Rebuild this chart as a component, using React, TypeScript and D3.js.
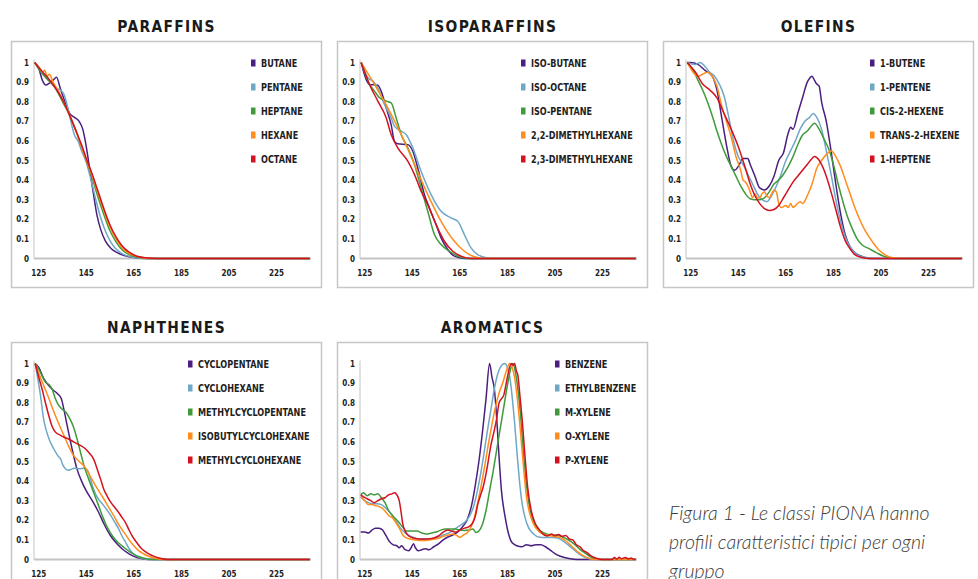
import * as d3 from "d3";

type Pt = [number, number];

// ---- axis ticks ----
const xTicks = [125, 145, 165, 185, 205, 225];
const yTicks = [0, 0.1, 0.2, 0.3, 0.4, 0.5, 0.6, 0.7, 0.8, 0.9, 1];
const seriesColors = ["#4b1f7f", "#6fa7c7", "#3e9a3b", "#ff8c1c", "#d2121f"];

// ---- PARAFFINS ----
const paraffinNames = ["BUTANE", "PENTANE", "HEPTANE", "HEXANE", "OCTANE"];
const butane: Pt[] = [[123.3,1],[125,0.97],[126.5,0.91],[128,0.885],[129.5,0.895],[131,0.91],[132.5,0.925],[134,0.87],[136,0.8],[138,0.74],[140,0.72],[142,0.7],[143.5,0.66],[145,0.57],[146.5,0.45],[148,0.33],[149.5,0.22],[151,0.15],[153,0.09],[155.5,0.05],[158,0.03],[161,0.015],[165,0.005],[170,0],[239,0]];
const pentane: Pt[] = [[123.3,1],[125.5,0.96],[127.5,0.93],[130,0.9],[132,0.87],[134,0.86],[135.5,0.84],[137,0.78],[138.5,0.7],[140,0.63],[141.5,0.6],[143,0.55],[145,0.49],[147,0.4],[149,0.3],[151,0.21],[153,0.14],[155,0.09],[157,0.055],[160,0.025],[164,0.008],[170,0],[239,0]];
const heptane: Pt[] = [[123.3,1],[126,0.95],[129,0.91],[132,0.87],[135,0.8],[138,0.73],[141,0.64],[143,0.57],[145,0.5],[147.5,0.41],[150,0.31],[152.5,0.22],[155,0.14],[157.5,0.085],[160,0.045],[163,0.02],[167,0.005],[172,0],[239,0]];
const hexane: Pt[] = [[123.3,1],[125.5,0.97],[126.5,0.95],[127.5,0.96],[128.5,0.93],[129.5,0.94],[131,0.9],[133,0.86],[135,0.81],[138,0.73],[141,0.64],[143,0.57],[145,0.5],[147.5,0.42],[150,0.33],[152.5,0.24],[155,0.16],[157.5,0.1],[160,0.055],[163,0.025],[167,0.008],[173,0],[239,0]];
const octane: Pt[] = [[123.3,1],[126,0.96],[129,0.92],[132,0.87],[135,0.81],[138,0.73],[141,0.64],[143,0.58],[145,0.51],[147.5,0.43],[150,0.34],[152.5,0.25],[155,0.17],[157.5,0.11],[160,0.065],[163,0.032],[166,0.013],[170,0.004],[175,0],[239,0]];

// ---- ISOPARAFFINS ----
const isoNames = ["ISO-BUTANE", "ISO-OCTANE", "ISO-PENTANE", "2,2-DIMETHYLHEXANE", "2,3-DIMETHYLHEXANE"];
const isoButane: Pt[] = [[123.5,1],[127,0.888],[130.5,0.884],[131.9,0.854],[134,0.769],[136.1,0.683],[137.5,0.598],[138.9,0.585],[143.1,0.581],[145.2,0.547],[147.3,0.462],[150.1,0.326],[152.2,0.258],[155,0.173],[157.1,0.105],[159.9,0.046],[162.7,0.012],[166.9,0],[239,0]];
const isoOctane: Pt[] = [[123.5,1],[126.3,0.922],[128.4,0.905],[130.5,0.871],[133.3,0.786],[136.1,0.718],[137.5,0.675],[140.3,0.65],[142.4,0.633],[145.2,0.565],[148.7,0.445],[152.9,0.326],[157.1,0.241],[161.3,0.207],[164.1,0.19],[166.9,0.122],[169.7,0.054],[172.5,0.02],[176.7,0.003],[180.9,0],[239,0]];
const isoPentane: Pt[] = [[123.5,1],[127,0.888],[129.1,0.854],[131.2,0.82],[134,0.803],[136.1,0.794],[138.2,0.718],[140.3,0.633],[143.1,0.565],[145.9,0.48],[148.7,0.36],[151.5,0.241],[154.3,0.122],[157.1,0.071],[160.6,0.037],[164.1,0.012],[168.3,0],[239,0]];
const dimethyl22: Pt[] = [[123.5,1],[129.1,0.888],[134.7,0.769],[140.3,0.633],[145.9,0.48],[151.5,0.326],[157.1,0.19],[162.7,0.088],[166.9,0.037],[171.1,0.009],[175.3,0],[239,0]];
const dimethyl23: Pt[] = [[123.5,1],[127,0.888],[130.5,0.803],[134,0.718],[136.1,0.633],[138.9,0.565],[143.1,0.497],[145.9,0.429],[148.7,0.343],[151.5,0.275],[155,0.173],[158.5,0.088],[162,0.037],[165.5,0.012],[169.7,0],[239,0]];

// ---- OLEFINS ----
const olefinNames = ["1-BUTENE", "1-PENTENE", "CIS-2-HEXENE", "TRANS-2-HEXENE", "1-HEPTENE"];
const butene1: Pt[] = [[123.5,1],[125,1],[128,0.99],[131,0.96],[134,0.93],[136,0.86],[138,0.72],[140,0.58],[142,0.47],[143.5,0.45],[145,0.47],[147,0.51],[149,0.51],[150,0.48],[152,0.42],[154,0.36],[156,0.35],[158,0.37],[160,0.42],[162,0.5],[164,0.54],[166,0.64],[167,0.67],[168,0.66],[170,0.74],[172,0.82],[174,0.9],[175,0.92],[176,0.93],[177,0.91],[178,0.89],[179,0.88],[180,0.8],[182,0.7],[184,0.55],[186,0.38],[188,0.23],[190,0.12],[192,0.06],[194,0.03],[197,0.01],[200,0],[239,0]];
const pentene1: Pt[] = [[123.5,1],[127,0.99],[129,1],[131,0.98],[133,0.95],[135,0.93],[137,0.89],[139,0.83],[141,0.72],[143,0.6],[145,0.52],[147,0.48],[149,0.43],[151,0.38],[153,0.33],[155,0.3],[157,0.29],[159,0.32],[161,0.37],[163,0.43],[165,0.5],[167,0.55],[169,0.6],[171,0.66],[173,0.7],[175,0.72],[176.5,0.74],[178,0.72],[180,0.66],[182,0.55],[184,0.43],[186,0.3],[188,0.19],[190,0.11],[192,0.06],[195,0.02],[199,0.005],[203,0],[239,0]];
const cis2hexene: Pt[] = [[123.5,1],[126,0.96],[128,0.91],[130,0.86],[132,0.8],[134,0.73],[136,0.65],[138,0.58],[140,0.52],[142,0.47],[144,0.42],[146,0.37],[148,0.33],[150,0.305],[152,0.3],[154,0.3],[156,0.31],[158,0.34],[160,0.38],[162,0.4],[164,0.43],[166,0.47],[168,0.52],[170,0.58],[172,0.63],[174,0.65],[176,0.68],[177,0.69],[179,0.66],[181,0.61],[183,0.56],[185,0.48],[187,0.38],[189,0.29],[191,0.21],[193,0.15],[195,0.1],[197,0.07],[200,0.05],[203,0.03],[206,0.012],[209,0.003],[213,0],[239,0]];
const trans2hexene: Pt[] = [[123.5,1],[126,0.95],[128,0.93],[130,0.94],[132,0.95],[134,0.93],[136,0.88],[138,0.78],[140,0.7],[142,0.62],[144,0.52],[146,0.45],[147,0.4],[148,0.39],[149,0.37],[150,0.34],[151,0.31],[152,0.33],[153,0.31],[154,0.31],[155,0.33],[156,0.34],[157,0.32],[158,0.31],[159,0.33],[160,0.35],[161,0.34],[162,0.28],[163,0.26],[165,0.27],[166,0.26],[167,0.28],[168,0.26],[169,0.27],[171,0.29],[172,0.28],[174,0.32],[176,0.38],[178,0.46],[180,0.5],[182,0.53],[184,0.55],[186,0.52],[188,0.47],[190,0.4],[192,0.33],[194,0.26],[196,0.2],[198,0.15],[200,0.11],[202,0.075],[204,0.045],[206,0.025],[208,0.01],[211,0.002],[214,0],[239,0]];
const heptene1: Pt[] = [[123.5,1],[127,0.95],[130,0.89],[133,0.86],[136,0.82],[139,0.74],[142,0.66],[145,0.57],[148,0.46],[150,0.38],[152,0.32],[154,0.28],[156,0.255],[158,0.245],[160,0.25],[162,0.27],[164,0.31],[166,0.35],[168,0.39],[170,0.42],[172,0.45],[174,0.48],[176,0.51],[177,0.52],[178,0.515],[180,0.48],[182,0.42],[184,0.34],[186,0.25],[188,0.16],[190,0.09],[192,0.05],[194,0.02],[197,0.005],[200,0],[239,0]];

// ---- NAPHTHENES ----
const naphtheneNames = ["CYCLOPENTANE", "CYCLOHEXANE", "METHYLCYCLOPENTANE", "ISOBUTYLCYCLOHEXANE", "METHYLCYCLOHEXANE"];
const cyclopentane: Pt[] = [[123.5,1],[125,0.98],[127,0.925],[129,0.89],[131,0.865],[133,0.845],[134.5,0.82],[135.5,0.77],[137,0.68],[139,0.565],[141,0.465],[143,0.4],[145,0.35],[147.5,0.3],[150,0.245],[152.5,0.18],[155,0.125],[157.5,0.085],[160,0.055],[162.5,0.033],[165,0.016],[168,0.005],[171,0],[239,0]];
const cyclohexane: Pt[] = [[123.5,1],[124.5,0.93],[125.7,0.84],[127,0.72],[128,0.665],[129.5,0.61],[131.3,0.565],[133,0.53],[134.3,0.51],[135.2,0.48],[136.2,0.463],[137.5,0.455],[138.5,0.46],[140,0.465],[142,0.463],[144,0.465],[145.5,0.455],[146.5,0.42],[148,0.36],[150,0.31],[152,0.28],[155,0.23],[157,0.19],[158.6,0.156],[160,0.12],[161.5,0.088],[163,0.055],[164.5,0.033],[166,0.018],[168,0.008],[172,0],[239,0]];
const methylcyclopentane: Pt[] = [[123.5,1],[125.5,0.96],[127.8,0.905],[129.5,0.89],[130.6,0.87],[132,0.82],[133.4,0.786],[135,0.765],[136.5,0.75],[138,0.72],[139.5,0.68],[141,0.62],[142.5,0.55],[144,0.48],[146,0.41],[148,0.345],[150,0.28],[152,0.215],[154,0.16],[156,0.12],[158.5,0.085],[161,0.06],[163.5,0.038],[166,0.02],[169,0.008],[173,0],[239,0]];
const isobutylcyclohexane: Pt[] = [[123.5,1],[125,0.95],[127,0.89],[129,0.83],[131.3,0.755],[133.5,0.69],[135.5,0.635],[137.5,0.58],[139.7,0.53],[142,0.5],[144,0.478],[146,0.44],[148,0.395],[150,0.355],[152.3,0.31],[154.5,0.265],[156.5,0.225],[158.5,0.18],[160.8,0.14],[163,0.1],[165,0.07],[167,0.045],[169.2,0.028],[171.5,0.015],[174,0.006],[178,0],[239,0]];
const methylcyclohexane: Pt[] = [[123.5,1],[125,0.93],[126.4,0.87],[127.8,0.8],[129.2,0.735],[130.6,0.68],[132,0.65],[134,0.635],[135.5,0.625],[137.5,0.615],[139.7,0.6],[142,0.585],[144.6,0.565],[146.5,0.54],[147.5,0.525],[148.5,0.5],[149.6,0.46],[151,0.41],[152.3,0.36],[153.7,0.325],[155.1,0.295],[157,0.265],[158.6,0.24],[160,0.215],[161.4,0.19],[162.8,0.155],[164.2,0.122],[166,0.09],[167.7,0.063],[169.5,0.043],[171.3,0.029],[173.5,0.016],[175.5,0.008],[179,0],[239,0]];

// ---- AROMATICS ----
const aromaticNames = ["BENZENE", "ETHYLBENZENE", "M-XYLENE", "O-XYLENE", "P-XYLENE"];
const benzene: Pt[] = [[123.3,0.14],[125,0.14],[126.5,0.135],[128,0.15],[129.5,0.16],[131,0.16],[132.5,0.15],[134,0.12],[135.5,0.09],[137,0.075],[138.5,0.07],[139.5,0.06],[140.5,0.07],[142,0.05],[143.5,0.045],[144.5,0.06],[145.5,0.08],[146.3,0.06],[147.5,0.045],[149,0.05],[150.5,0.055],[152,0.05],[154,0.065],[156,0.08],[158,0.1],[160,0.115],[162,0.125],[164,0.14],[166,0.165],[168,0.2],[170,0.28],[171.5,0.38],[173,0.5],[174.5,0.65],[176,0.82],[177.5,1.0],[178.5,0.93],[179.5,0.87],[180.5,0.72],[181.5,0.52],[182.5,0.35],[184,0.22],[185.5,0.13],[187,0.085],[189,0.07],[191,0.065],[193,0.075],[195,0.07],[197,0.075],[199,0.075],[201,0.065],[203,0.048],[205,0.03],[207,0.018],[209,0.01],[212,0.003],[216,0],[239,0]];
const ethylbenzene: Pt[] = [[123.3,0.32],[125,0.3],[126.5,0.29],[128,0.285],[130,0.285],[132,0.28],[134,0.26],[136,0.235],[138,0.2],[140,0.16],[142,0.135],[144,0.12],[146,0.11],[148,0.105],[150,0.105],[152,0.105],[155,0.11],[158,0.125],[161,0.14],[164,0.165],[167,0.19],[169,0.22],[170.5,0.26],[172,0.33],[173.5,0.42],[175,0.53],[176.5,0.65],[178,0.76],[179.5,0.87],[181,0.95],[182.5,0.99],[183.8,1.0],[185,0.98],[186,0.93],[187,0.83],[188,0.7],[189,0.55],[190,0.41],[191,0.3],[192.5,0.21],[194,0.16],[196,0.13],[198,0.115],[201,0.112],[204,0.112],[206,0.11],[208,0.098],[210,0.08],[212.5,0.055],[215,0.03],[217,0.015],[219.5,0.004],[222,0],[239,0]];
const mXylene: Pt[] = [[123.3,0.33],[124.5,0.34],[126,0.325],[127.5,0.335],[129,0.33],[130.5,0.335],[132,0.315],[133.5,0.29],[135,0.25],[137,0.22],[139,0.195],[141,0.165],[142.5,0.145],[144.5,0.145],[147,0.145],[149,0.135],[151,0.13],[153,0.135],[155,0.14],[157,0.15],[159,0.155],[161,0.155],[163,0.155],[165,0.15],[167,0.148],[169,0.15],[170.5,0.155],[171.8,0.138],[173,0.145],[174.5,0.18],[176,0.25],[177.5,0.35],[179,0.45],[180.5,0.56],[182,0.67],[183.5,0.78],[185,0.89],[186.3,0.97],[187.3,1.0],[188.3,0.96],[189.4,0.87],[190.5,0.74],[191.5,0.58],[192.5,0.44],[194,0.29],[195.5,0.21],[197,0.17],[199,0.145],[201.5,0.13],[204,0.125],[206.5,0.122],[209,0.11],[211,0.097],[213,0.08],[215.5,0.052],[218,0.03],[220,0.013],[222.5,0.003],[225,0],[239,0]];
const oXylene: Pt[] = [[123.3,0.32],[125,0.3],[126.5,0.28],[128,0.28],[129.5,0.275],[131,0.27],[132.5,0.26],[134,0.24],[135.5,0.22],[136.5,0.215],[138,0.19],[139.5,0.16],[141,0.125],[142.5,0.11],[144,0.105],[146,0.1],[148,0.097],[150,0.097],[152,0.1],[154,0.103],[156,0.108],[158,0.118],[160,0.125],[162,0.13],[164,0.12],[165,0.113],[166.5,0.125],[168,0.135],[169.5,0.16],[171,0.21],[172.5,0.29],[174,0.38],[175.5,0.48],[177,0.59],[178.5,0.69],[180,0.78],[181.5,0.85],[183,0.9],[184.5,0.96],[185.9,1.0],[187,0.98],[188,0.93],[189,0.84],[190,0.72],[191,0.58],[192,0.44],[193,0.32],[194.5,0.23],[196,0.18],[198,0.145],[200,0.13],[202.5,0.122],[205,0.117],[207,0.113],[209,0.1],[211,0.08],[213,0.057],[215,0.035],[217,0.018],[219.5,0.005],[222,0],[239,0]];
const pXylene: Pt[] = [[123.3,0.33],[124.5,0.32],[126,0.31],[127.5,0.3],[129,0.29],[130.5,0.3],[132,0.31],[133.5,0.315],[135,0.33],[136.5,0.335],[137.5,0.34],[138.5,0.33],[139.5,0.3],[140.3,0.24],[141,0.18],[142,0.145],[143.5,0.12],[145.5,0.11],[148,0.105],[151,0.105],[154,0.11],[156,0.12],[158,0.14],[160,0.15],[161.5,0.145],[163.5,0.14],[165,0.15],[167,0.16],[168.5,0.165],[170,0.18],[171.5,0.22],[172.5,0.28],[173.5,0.32],[175,0.38],[176.5,0.47],[178,0.58],[179.5,0.66],[180.5,0.72],[181.5,0.8],[182.5,0.82],[183.5,0.84],[184.5,0.9],[185.5,0.96],[186.6,1.0],[187.3,0.99],[188,1.0],[188.8,0.96],[189.4,0.94],[190.3,0.83],[191.3,0.7],[192.3,0.54],[193.5,0.37],[195,0.25],[196.5,0.19],[198.5,0.15],[200.5,0.125],[202,0.12],[203.5,0.13],[205,0.122],[206.5,0.128],[208,0.118],[209.5,0.122],[211,0.105],[212.5,0.1],[214,0.075],[215.5,0.065],[217,0.045],[218.5,0.035],[220,0.02],[221.5,0.01],[223.5,0.003],[226,0],[229,0],[230,0.01],[231,0.002],[232,0.012],[233,0.004],[234.5,0.01],[236,0.003],[237,0.008],[238,0.002],[239,0]];

const captionLines = [
  "Figura 1 - Le classi PIONA hanno",
  "profili caratteristici tipici per ogni",
  "gruppo",
];

const panels = [
  { title: "PARAFFINS", names: paraffinNames, series: [butane, pentane, heptane, hexane, octane], bx: 11.5, by: 41.5, legendX: 241.5 },
  { title: "ISOPARAFFINS", names: isoNames, series: [isoButane, isoOctane, isoPentane, dimethyl22, dimethyl23], bx: 337.5, by: 41.5, legendX: 185.5 },
  { title: "OLEFINS", names: olefinNames, series: [butene1, pentene1, cis2hexene, trans2hexene, heptene1], bx: 663.5, by: 41.5, legendX: 208.5 },
  { title: "NAPHTHENES", names: naphtheneNames, series: [cyclopentane, cyclohexane, methylcyclopentane, isobutylcyclohexane, methylcyclohexane], bx: 11.5, by: 342.5, legendX: 178.5 },
  { title: "AROMATICS", names: aromaticNames, series: [benzene, ethylbenzene, mXylene, oXylene, pXylene], bx: 337.5, by: 342.5, legendX: 219.5 },
];

const boxW = 310;
const boxH = 246;
const narrow = "'Liberation Sans Narrow', 'DejaVu Sans Condensed', 'Roboto', sans-serif";

function Panel({ p }: { p: (typeof panels)[number] }) {
  const x = d3.scaleLinear().domain([123, 239.5]).range([p.bx + 22.5, p.bx + 299.5]);
  const y = d3.scaleLinear().domain([0, 1]).range([p.by + 217, p.by + 21]);
  const line = d3
    .line<Pt>()
    .x((d) => x(d[0]))
    .y((d) => y(d[1]))
    .curve(d3.curveMonotoneX);

  return (
    <g>
      <text
        transform={`translate(${p.bx + boxW / 2},${p.by - 9.5}) scale(0.84,1)`}
        textAnchor="middle"
        fontFamily="'DejaVu Sans', sans-serif"
        fontWeight="bold"
        fontSize={16.5}
        letterSpacing={1.6}
        fill="#1a1a1a"
      >
        {p.title}
      </text>
      <rect x={p.bx} y={p.by} width={boxW} height={boxH} fill="none" stroke="#c6c6c6" strokeWidth={1.5} />

      {/* axes */}
      <line x1={x(123)} x2={x(123)} y1={y(1) - 3} y2={y(0)} stroke="#cdcdcd" strokeWidth={1.2} />
      <line x1={x(123)} x2={x(239.5)} y1={y(0)} y2={y(0)} stroke="#c4c4c4" strokeWidth={2} />

      {yTicks.map((t) => (
        <text key={t} x={p.bx + 17.5} y={y(t) + 3} textAnchor="end" fontFamily={narrow} fontWeight="bold" fontSize={8} fill="#222">
          {String(t)}
        </text>
      ))}
      {xTicks.map((t) => (
        <text key={t} x={x(t)} y={p.by + 234} textAnchor="middle" fontFamily={narrow} fontWeight="bold" fontSize={8} fill="#222">
          {t}
        </text>
      ))}

      {p.series.map((s, i) => (
        <path key={i} d={line(s) ?? ""} fill="none" stroke={seriesColors[i]} strokeWidth={1.5} strokeLinejoin="round" />
      ))}

      {p.names.map((n, i) => {
        const cy = p.by + 21.5 + i * 24;
        return (
          <g key={n}>
            <rect x={p.bx + p.legendX - 2} y={cy - 3.5} width={4.5} height={7} fill={seriesColors[i]} />
            <text
              transform={`translate(${p.bx + p.legendX + 8},${cy + 3.8}) scale(0.86,1)`}
              fontFamily={narrow}
              fontWeight="bold"
              fontSize={10.5}
              fill="#1e1e1e"
            >
              {n}
            </text>
          </g>
        );
      })}
    </g>
  );
}

export default function App() {
  return (
    <svg
      width={978}
      height={579}
      style={{ position: "absolute", left: 0, top: 0, background: "#fff" }}
    >
      {panels.map((p) => (
        <Panel key={p.title} p={p} />
      ))}
      {captionLines.map((l, i) => (
        <text
          key={i}
          x={669}
          y={520 + i * 29}
          fontFamily="Lato, 'Open Sans', sans-serif"
          fontStyle="italic"
          fontWeight={300}
          fontSize={19.5}
          fill="#3a3a3a"
        >
          {l}
        </text>
      ))}
    </svg>
  );
}
